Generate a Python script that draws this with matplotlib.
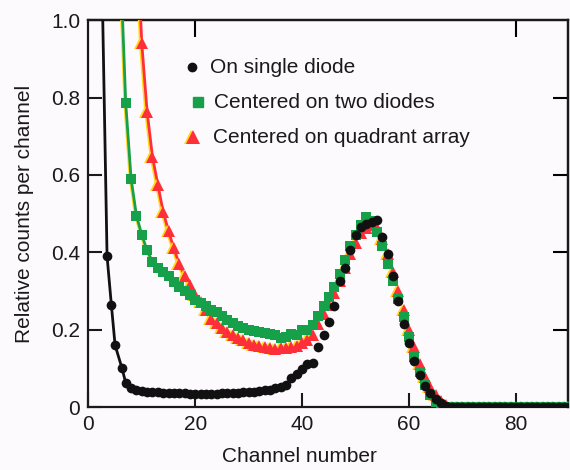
import numpy as np
import matplotlib
matplotlib.use("Agg")
import matplotlib.pyplot as plt
import matplotlib.transforms as mtransforms

plt.rcParams['font.family'] = ['Liberation Sans', 'DejaVu Sans']

# single diode (black circles)
single_x = [2.5, 3.5, 4.3, 5.0, 6.3, 7.0, 8.0] + list(range(9, 91))
single_y = [1.15, 0.39, 0.265, 0.16, 0.10, 0.062, 0.05,
            # 9 - 20
            0.045, 0.042, 0.040, 0.039, 0.038, 0.037, 0.036, 0.036, 0.035, 0.035, 0.034, 0.033,
            # 21 - 32
            0.033, 0.034, 0.033, 0.034, 0.035, 0.035, 0.036, 0.037, 0.038, 0.039, 0.040, 0.041,
            # 33 - 44
            0.043, 0.045, 0.048, 0.052, 0.058, 0.074, 0.085, 0.097, 0.112, 0.114, 0.156, 0.186,
            # 45 - 56
            0.22, 0.262, 0.325, 0.36, 0.405, 0.445, 0.465, 0.472, 0.478, 0.483, 0.44, 0.395,
            # 57 - 68
            0.34, 0.275, 0.215, 0.165, 0.12, 0.083, 0.055, 0.037, 0.022, 0.01, 0.003, 0.0,
            # 69 - 90
            0.0, 0.0, 0.0, 0.0, 0.0, 0.0, 0.0, 0.0, 0.0, 0.0, 0.0,
            0.0, 0.0, 0.0, 0.0, 0.0, 0.0, 0.0, 0.0, 0.0, 0.0, 0.0]

# centered on two diodes (green squares)
two_x = [6.0] + list(range(7, 91))
two_y = [1.15,
         # 7 - 18
         0.785, 0.59, 0.495, 0.445, 0.405, 0.375, 0.36, 0.35, 0.338, 0.322, 0.31, 0.30,
         # 19 - 30
         0.29, 0.277, 0.27, 0.262, 0.252, 0.245, 0.235, 0.225, 0.216, 0.21, 0.203, 0.2,
         # 31 - 42
         0.197, 0.195, 0.192, 0.19, 0.185, 0.178, 0.18, 0.19, 0.186, 0.2, 0.2, 0.212,
         # 43 - 54
         0.235, 0.262, 0.285, 0.31, 0.345, 0.38, 0.415, 0.445, 0.47, 0.49, 0.48, 0.453,
         # 55 - 66
         0.415, 0.37, 0.325, 0.28, 0.232, 0.182, 0.13, 0.09, 0.056, 0.032, 0.014, 0.004,
         # 67 - 90
         0.0, 0.0, 0.0, 0.0, 0.0, 0.0, 0.0, 0.0, 0.0, 0.0, 0.0, 0.0,
         0.0, 0.0, 0.0, 0.0, 0.0, 0.0, 0.0, 0.0, 0.0, 0.0, 0.0, 0.0]

# centered on quadrant array (red triangles)
quad_x = [9.0] + list(range(10, 91))
quad_y = [1.25,
          # 10 - 21
          0.94, 0.763, 0.647, 0.575, 0.505, 0.455, 0.41, 0.37, 0.34, 0.315, 0.29, 0.272,
          # 22 - 33
          0.25, 0.228, 0.218, 0.205, 0.195, 0.186, 0.178, 0.172, 0.166, 0.161, 0.157, 0.154,
          # 34 - 45
          0.152, 0.151, 0.152, 0.153, 0.155, 0.158, 0.165, 0.172, 0.185, 0.215, 0.24, 0.265,
          # 46 - 57
          0.295, 0.325, 0.36, 0.395, 0.425, 0.45, 0.462, 0.47, 0.462, 0.435, 0.395, 0.35,
          # 58 - 69
          0.3, 0.25, 0.2, 0.155, 0.112, 0.078, 0.052, 0.032, 0.016, 0.006, 0.0, 0.0,
          # 70 - 90
          0.0, 0.0, 0.0, 0.0, 0.0, 0.0, 0.0, 0.0, 0.0, 0.0, 0.0,
          0.0, 0.0, 0.0, 0.0, 0.0, 0.0, 0.0, 0.0, 0.0, 0.0]

labels = ['On single diode', 'Centered on two diodes', 'Centered on quadrant array']

BLACK = '#111111'
GREEN = '#16a04a'
RED = '#ff2f3a'
YELLOW = '#ffd81c'

fig = plt.figure(figsize=(5.7, 4.7), dpi=100)
fig.patch.set_facecolor('#fdfafd')
ax = fig.add_axes([0.155, 0.134, 0.842, 0.823])
ax.set_facecolor('#fdfafd')


def shifted(dx):
    # small sideways shift in pixels, for the yellow print shadow
    return mtransforms.offset_copy(ax.transData, fig=fig, x=dx, y=0, units='dots')


# lines only drawn on the steep falling part
ax.plot(single_x[:10], single_y[:10], '-', color=BLACK, lw=2, zorder=3)
ax.plot(two_x[:20], two_y[:20], '-', color=YELLOW, lw=2, transform=shifted(-1), zorder=3)
ax.plot(two_x[:20], two_y[:20], '-', color=GREEN, lw=2, zorder=3)
ax.plot(quad_x[:18], quad_y[:18], '-', color=YELLOW, lw=2, transform=shifted(-1.5), zorder=3)
ax.plot(quad_x[:18], quad_y[:18], '-', color=RED, lw=2, zorder=3)

# markers (yellow shadow gives the misregistered print look)
ax.plot(quad_x, quad_y, '^', color=YELLOW, ms=8.5, mew=0, ls='none', transform=shifted(-2), zorder=4)
ax.plot(quad_x, quad_y, '^', color=RED, ms=8.5, mew=0, ls='none', zorder=4)
ax.plot(two_x, two_y, 's', color=GREEN, ms=7, mew=0, ls='none', zorder=5)
ax.plot(single_x, single_y, 'o', color=BLACK, ms=7, mew=0, ls='none', zorder=6)

# legend drawn by hand
leg_y = [0.879, 0.788, 0.698]
ax.plot(19.4, leg_y[0], 'o', color=BLACK, ms=6)
ax.plot(20.6, leg_y[1], 's', color=GREEN, ms=7)
ax.plot(19.6, leg_y[2], '^', color=YELLOW, ms=10, mew=0, transform=shifted(-2))
ax.plot(19.6, leg_y[2], '^', color=RED, ms=10, mew=0)
ax.text(22.8, leg_y[0], labels[0], fontsize=15, va='center', ha='left', color='#1a1a1a')
ax.text(23.6, leg_y[1], labels[1], fontsize=15, va='center', ha='left', color='#1a1a1a')
ax.text(23.3, leg_y[2], labels[2], fontsize=15, va='center', ha='left', color='#1a1a1a')

ax.set_xlim(0, 89.8)
ax.set_ylim(0, 1.0)
ax.set_xticks([0, 20, 40, 60, 80])
ax.set_yticks([0, 0.2, 0.4, 0.6, 0.8, 1.0])
ax.set_yticklabels(['0', '0.2', '0.4', '0.6', '0.8', '1.0'])
ax.tick_params(direction='in', length=10, width=1.5, labelsize=15, colors='#1a1a1a', pad=6)

# ticks on top and right like the original frame
top = ax.secondary_xaxis('top')
top.set_xticks([20, 80])
top.tick_params(direction='in', length=12, width=1.5, labeltop=False)
right = ax.secondary_yaxis('right')
right.set_yticks([0.2, 0.4, 0.6, 0.8])
right.tick_params(direction='in', length=11, width=1.5, labelright=False)

for sp in ax.spines.values():
    sp.set_linewidth(1.6)
    sp.set_color('#1a1a1a')
top.spines['top'].set_linewidth(1.6)
right.spines['right'].set_linewidth(1.6)

ax.set_xlabel('Channel number', fontsize=15, color='#1a1a1a')
ax.xaxis.set_label_coords(0.44, -0.104)
ax.set_ylabel('Relative counts per channel', fontsize=15, color='#1a1a1a', labelpad=12)

fig.savefig('out.png', dpi=100, facecolor=fig.get_facecolor())
